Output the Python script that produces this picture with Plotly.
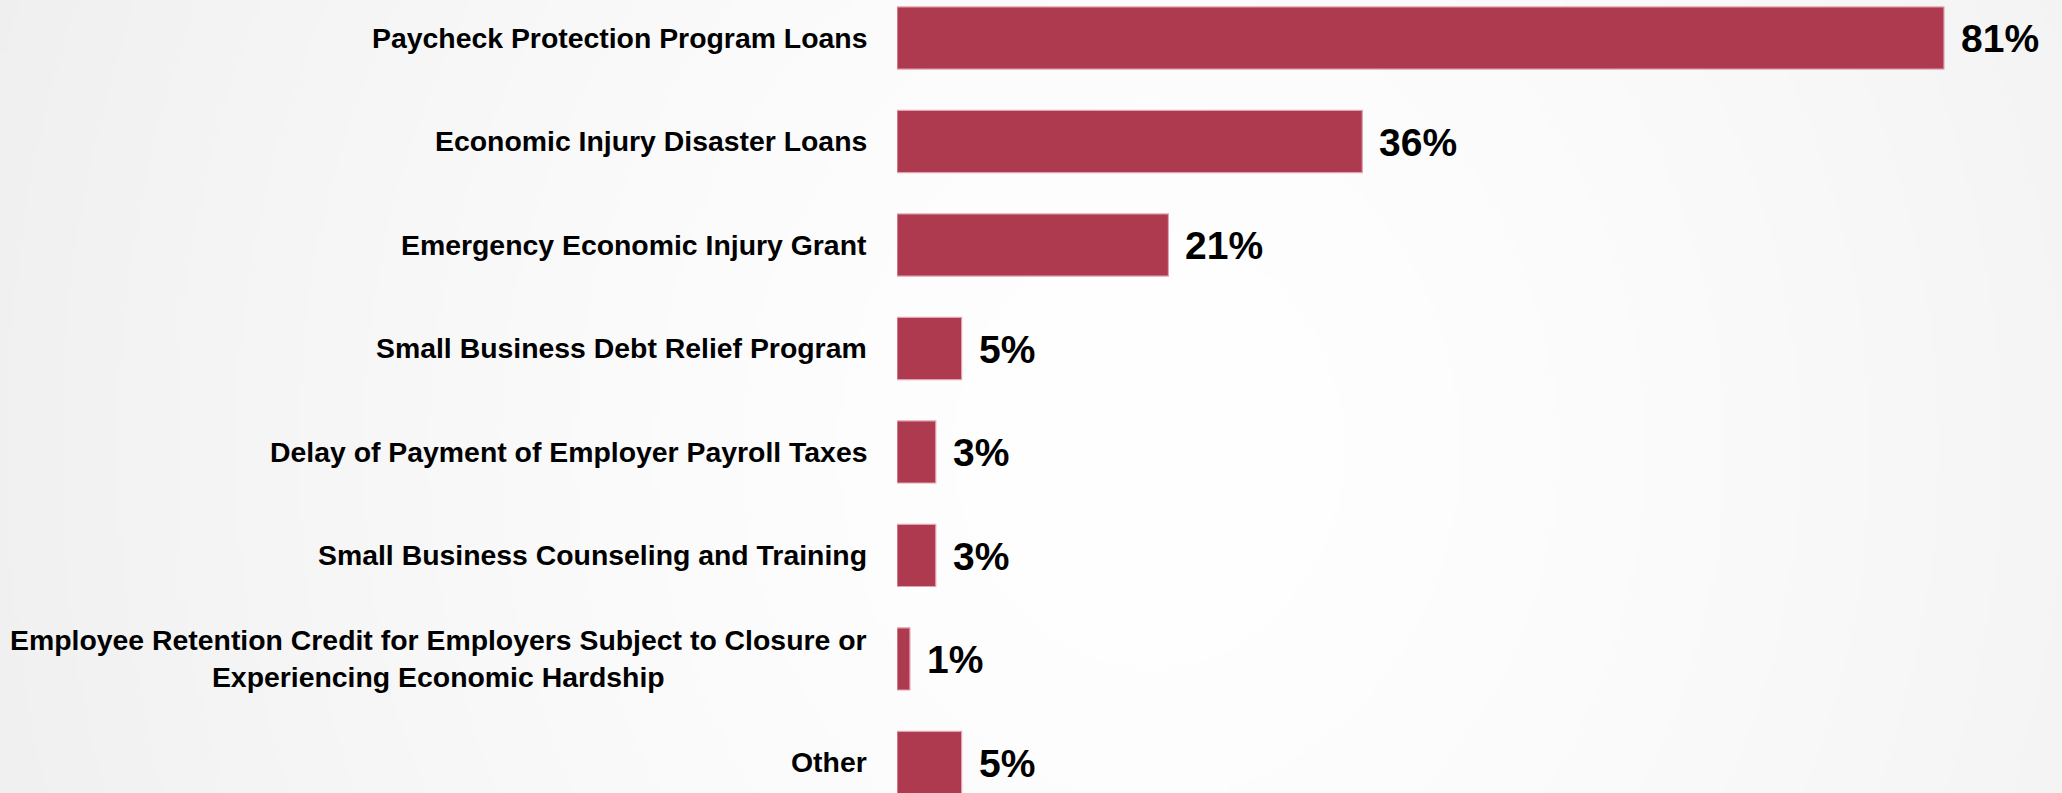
import base64
import struct
import zlib

import numpy as np
import plotly.graph_objects as go

# Programs used, top to bottom
categories = [
    "Paycheck Protection Program Loans",
    "Economic Injury Disaster Loans",
    "Emergency Economic Injury Grant",
    "Small Business Debt Relief Program",
    "Delay of Payment of Employer Payroll Taxes",
    "Small Business Counseling and Training",
    "Employee Retention Credit for Employers Subject to Closure or<br>Experiencing Economic Hardship",
    "Other",
]
# Share of respondents (%)
values = [81, 36, 21, 5, 3, 3, 1, 5]
value_labels = [f"{v}%" for v in values]

W, H = 2062, 793
BAR_COLOR = "#AD3A4F"
BAR_EDGE = "#E3A3B0"
FONT = "Liberation Sans"


def gradient_png(w, h):
    """Soft radial backdrop: white centre fading to light grey edges."""
    xs = np.linspace(0, W, w)
    ys = np.linspace(0, H, h)
    X, Y = np.meshgrid(xs, ys)
    d = np.sqrt(((X - 1150) / 1150) ** 2 + ((Y - 450) / 1300) ** 2)
    v = np.clip(255 - 14 * d ** 1.5, 238, 255).astype(np.uint8)
    img = np.dstack([v, v, v])
    raw = b"".join(b"\x00" + row.tobytes() for row in img)

    def chunk(tag, data):
        c = struct.pack(">I", len(data)) + tag + data
        return c + struct.pack(">I", zlib.crc32(tag + data) & 0xFFFFFFFF)

    png = b"\x89PNG\r\n\x1a\n"
    png += chunk(b"IHDR", struct.pack(">IIBBBBB", w, h, 8, 2, 0, 0, 0))
    png += chunk(b"IDAT", zlib.compress(raw, 9))
    png += chunk(b"IEND", b"")
    return "data:image/png;base64," + base64.b64encode(png).decode()


fig = go.Figure(
    go.Bar(
        x=values,
        y=categories,
        orientation="h",
        width=0.6,
        marker=dict(color=BAR_COLOR, line=dict(color=BAR_EDGE, width=1.2)),
        hoverinfo="skip",
    )
)

# Category names to the left of the bars, right-aligned block with centred lines
for cat in categories:
    fig.add_annotation(
        x=0, y=cat, xref="x", yref="y",
        text=cat, showarrow=False,
        xanchor="right", yanchor="middle", align="center",
        xshift=-28,
        font=dict(family=FONT, size=28.4, color="#000000", weight="bold"),
    )

# Value labels just past the end of each bar
for cat, v, lab in zip(categories, values, value_labels):
    fig.add_annotation(
        x=v, y=cat, xref="x", yref="y",
        text=lab, showarrow=False,
        xanchor="left", yanchor="middle",
        xshift=15, yshift=-1,
        font=dict(family=FONT, size=39, color="#000000", weight="bold"),
    )

fig.update_layout(
    width=W,
    height=H,
    margin=dict(l=0, r=0, t=0, b=0),
    paper_bgcolor="#FFFFFF",
    plot_bgcolor="rgba(0,0,0,0)",
    showlegend=False,
    images=[dict(
        source=gradient_png(412, 159),
        xref="paper", yref="paper",
        x=0, y=1, sizex=1, sizey=1,
        xanchor="left", yanchor="top",
        sizing="stretch", layer="below",
    )],
    xaxis=dict(
        domain=[897 / W, 1],
        range=[0, 90.13],
        visible=False,
        fixedrange=True,
    ),
    yaxis=dict(
        type="category",
        categoryorder="array",
        categoryarray=categories,
        range=[7.295, -0.367],
        showticklabels=False,
        showgrid=False,
        zeroline=False,
        showline=False,
        ticks="",
        fixedrange=True,
    ),
)

fig.write_html("out.html")
